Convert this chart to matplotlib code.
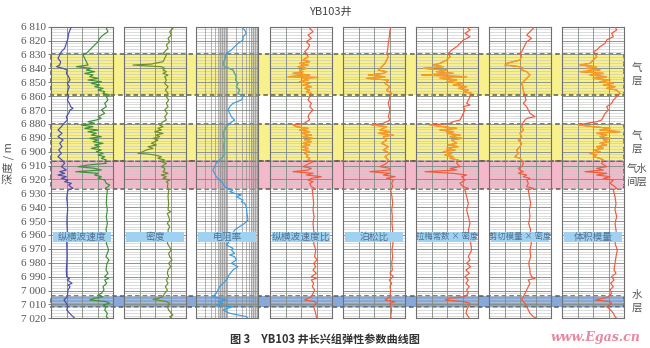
import numpy as np
import matplotlib.pyplot as plt
from matplotlib.patches import Rectangle

plt.rcParams['font.family'] = ['Noto Sans CJK SC', 'DejaVu Sans']

# ----------------------------
# Data (values in % of track width; resistivity in ohm.m)
# ----------------------------
depth_top, depth_bottom = 6810, 7020

zone_top = [6830, 6880, 6907, 7004]
zone_bottom = [6859, 6907, 6927, 7012]
zone_label = ['气\n层', '气\n层', '气水\n间层', '水\n层']

track_names = ['纵横波速度', '密度', '电阻率', '纵横波速度比', '泊松比',
               '拉梅常数 × 密度', '剪切模量 × 密度', '体积模量']

vs_depth = [6808.8, 6811.2, 6814.8, 6818.4, 6822, 6825.6, 6828, 6830.4, 6832.8, 6835.2,
            6837.6, 6838.8, 6840, 6841.2, 6843.6, 6846, 6848.4, 6850.8, 6853.2, 6855.6,
            6858, 6860.4, 6862.8, 6865.2, 6867.6, 6868.8, 6870, 6872.4, 6874.8, 6877.2,
            6879.6, 6882, 6884.4, 6886.8, 6889.2, 6891.6, 6894, 6896.4, 6898.8, 6901.2,
            6903.6, 6906, 6908.4, 6910.8, 6913.2, 6914.4, 6915.6, 6916.8, 6918, 6919.2,
            6920.4, 6921.6, 6922.8, 6924, 6925.2, 6926.4, 6927.6, 6930, 6933.6, 6937.2,
            6942, 6946.8, 6951.6, 6956.4, 6961.2, 6966, 6970.8, 6975.6, 6980.4, 6985.2,
            6990, 6991.2, 6992.4, 6994.8, 6996, 6997.2, 6999.6, 7004.4, 7006.8, 7009.2,
            7011.6, 7014, 7016.4, 7018.8, 7020]
vs = [32.8, 31.7, 28.5, 27.4, 24.7, 22, 16.7, 14, 11.3, 15.6,
      14, 9, 19.4, 26.3, 24.7, 28.5, 30.6, 26.3, 29.6, 27.4,
      26.3, 28.5, 26.3, 29.6, 31.7, 35.5, 30.6, 28.5, 24.7, 26.3,
      21, 16.7, 11.3, 17.7, 11.3, 19.4, 14, 17.7, 12.4, 16.7,
      11.3, 17.7, 22, 16.7, 24.7, 14, 22, 11.3, 24.7, 16.7,
      27.4, 22, 32.8, 28.5, 31.7, 35.5, 27.4, 26.3, 25.3, 26.3,
      26.9, 25.8, 25.6, 26.3, 26.1, 25.3, 25.6, 25.8, 25.4, 24.7,
      25.3, 30, 26.3, 33.9, 27.4, 30.6, 27.4, 26.3, 21, 24.7,
      27.4, 25.3, 30, 35.5, 38.2]

vp_depth = [6808.8, 6811.2, 6813.6, 6816, 6818.4, 6820.8, 6823.2, 6825.6, 6828, 6829.2,
            6830.4, 6832.8, 6835.2, 6837.6, 6838.8, 6840, 6841.2, 6842.4, 6843.6, 6844.8,
            6846, 6847.2, 6848.4, 6849.6, 6850.8, 6852, 6853.2, 6854.4, 6855.6, 6856.8,
            6858, 6859.2, 6860.4, 6862.8, 6865.2, 6867.6, 6870, 6872.4, 6874.8, 6876,
            6877.2, 6878.4, 6879.6, 6880.8, 6882, 6883.2, 6884.4, 6885.6, 6886.8, 6888,
            6889.2, 6890.4, 6891.6, 6892.8, 6894, 6895.2, 6896.4, 6897.6, 6898.8, 6900,
            6901.2, 6902.4, 6903.6, 6904.8, 6906, 6907.2, 6908.4, 6909.6, 6910.8, 6912,
            6913.2, 6914.4, 6915.6, 6916.8, 6918, 6919.2, 6920.4, 6922.8, 6924, 6925.2,
            6926.4, 6927.6, 6932.4, 6937.2, 6942, 6946.8, 6951.6, 6956.4, 6961.2, 6966,
            6970.8, 6975.6, 6978, 6980.4, 6985.2, 6987.6, 6990, 6991.2, 6992.4, 6994.8,
            6997.2, 6999.6, 7002, 7003.2, 7004.4, 7005.6, 7006.8, 7008, 7009.2, 7010.4,
            7011.6, 7014, 7016.4, 7018.8, 7020]
vp = [94.6, 89.2, 91.9, 83.9, 78.5, 75.8, 70.4, 65, 59.7, 57,
      51.6, 54.3, 57, 59.7, 40.9, 65, 57, 70.4, 54.3, 67.7,
      62.4, 75.8, 59.7, 81.2, 65, 78.5, 70.4, 83.9, 75.8, 86.6,
      83.9, 94.6, 89.2, 91.9, 86.6, 89.2, 81.2, 86.6, 75.8, 81.2,
      73.1, 59.7, 70.4, 48.9, 67.7, 54.3, 75.8, 59.7, 73.1, 65,
      81.2, 62.4, 75.8, 67.7, 83.9, 70.4, 78.5, 65, 81.2, 73.1,
      83.9, 75.8, 86.6, 81.2, 89.2, 86.6, 89.2, 59.7, 43.5, 70.4,
      81.2, 40, 75.8, 70.4, 81.2, 75.8, 86.6, 89.2, 94.6, 91.9,
      87.6, 90.9, 89.8, 89.2, 90.9, 89.2, 90.9, 88.7, 91.9, 89.2,
      93, 88.7, 93.5, 90.3, 88.7, 91.9, 86.6, 93, 86.6, 89.8,
      83.9, 85.5, 81.2, 75.8, 83.9, 70.4, 62.4, 89.2, 94.6, 83.9,
      89.2, 86.6, 90.9, 89.2, 91.9]

den_depth = [6808.8, 6811.2, 6813.6, 6816, 6818.4, 6820.8, 6823.2, 6825.6, 6828, 6829.2,
             6830.4, 6832.8, 6835.2, 6836.9, 6837.6, 6838.3, 6838.8, 6840, 6841.2, 6842.4,
             6843.6, 6844.8, 6846, 6848.4, 6850.8, 6853.2, 6855.6, 6858, 6860.4, 6862.8,
             6865.2, 6867.6, 6870, 6872.4, 6874.8, 6877.2, 6878.4, 6879.6, 6880.8, 6882,
             6883.2, 6884.4, 6885.6, 6886.8, 6888, 6889.2, 6890.4, 6891.6, 6892.8, 6894,
             6895.2, 6896.4, 6897.6, 6898.8, 6900, 6901.2, 6901.7, 6902.4, 6903.6, 6904.8,
             6906, 6907.2, 6908.4, 6910.8, 6912, 6913.2, 6914.4, 6915.6, 6916.8, 6918,
             6919.2, 6920.4, 6921.6, 6922.8, 6925.2, 6927.6, 6932.4, 6937.2, 6942, 6943.2,
             6944.4, 6946.8, 6949.2, 6951.6, 6954, 6956.4, 6961.2, 6966, 6970.8, 6973.2,
             6975.6, 6978, 6980.4, 6982.8, 6985.2, 6987.6, 6990, 6992.4, 6994.8, 6997.2,
             6999.6, 7002, 7004.4, 7005.6, 7006.3, 7007.3, 7008, 7009.2, 7011.6, 7014,
             7016.4, 7017.6, 7018.8, 7020]
den = [76.3, 79, 73.7, 76.3, 71, 73.7, 68.3, 71, 65.6, 62.9,
       68.3, 65.6, 62.9, 44, 14.5, 38.7, 60.2, 65.6, 62.9, 68.3,
       62.9, 71, 65.6, 68.3, 65.6, 71, 66.7, 71, 68.3, 72,
       68.3, 71, 65.6, 69.9, 65.6, 68.3, 62.9, 60.2, 57.5, 62.9,
       54.8, 60.2, 49.5, 62.9, 52.2, 57.5, 46.8, 54.8, 49.5, 44.1,
       52.2, 38.7, 46.8, 36, 30.6, 22.6, 38.7, 49.5, 60.2, 54.8,
       65.6, 60.2, 68.3, 60.2, 65.6, 65.6, 62.9, 71, 60.2, 68.3,
       62.9, 73.7, 68.3, 71, 69.9, 72, 71, 72, 71, 75.3,
       69.9, 72, 73.7, 69.9, 73.7, 71, 72, 69.9, 76.3, 72,
       73.7, 77.4, 72, 75.3, 71, 69.9, 72, 68.3, 71, 66.7,
       69.9, 65.6, 62.9, 54.8, 46.8, 60.2, 68.3, 73.7, 69.9, 72,
       76.3, 79, 73.7, 77.4]

res_depth = [6808.8, 6812.4, 6814.8, 6817.2, 6819.6, 6822, 6824.4, 6826.8, 6829.2, 6834,
             6836.4, 6838.8, 6841.2, 6843.6, 6846, 6848.4, 6850.8, 6853.2, 6855.6, 6858,
             6860.4, 6862.8, 6865.2, 6867.6, 6870, 6872.4, 6874.8, 6877.2, 6879.6, 6882,
             6884.4, 6886.8, 6891.6, 6896.4, 6901.2, 6903.6, 6906, 6908.4, 6910.8, 6913.2,
             6918, 6922.8, 6925.2, 6926.4, 6927.6, 6928.8, 6930, 6931.2, 6932.4, 6933.6,
             6934.8, 6936, 6937.2, 6939.6, 6944.4, 6949.2, 6951.6, 6954, 6956.4, 6958.8,
             6961.2, 6963.6, 6966, 6967.2, 6968.4, 6969.6, 6970.8, 6973.2, 6974.4, 6975.6,
             6978, 6980.4, 6982.8, 6985.2, 6987.6, 6990, 6992.4, 6994.8, 6997.2, 6999.6,
             7002, 7004.4, 7005.6, 7006.8, 7008, 7009.2, 7010.4, 7011.6, 7012.8, 7014,
             7016.4, 7018.8, 7020]
res = [25.5, 37, 42, 33, 33, 22.6, 17.6, 13.8, 9.5, 8.4,
       7.4, 8.4, 15.6, 17.6, 20, 19, 22.6, 20, 25.5, 22.6,
       33, 29, 15.6, 12.2, 10.8, 12.2, 13.8, 17.6, 12.2, 9.5,
       8.4, 7.4, 8.4, 7.8, 8.4, 7.4, 5.8, 4.5, 4.0, 3.5,
       4.5, 7.4, 8.4, 10.8, 15.6, 12.2, 17.6, 29, 20, 25.5,
       33, 29, 37, 42, 44, 47.5, 37, 25.5, 17.6, 15.6,
       13.8, 12.2, 10.8, 9.5, 12.2, 15.6, 13.8, 17.6, 12.2, 17.6,
       20, 13.8, 22.6, 15.6, 12.8, 10.8, 9.5, 7.4, 5.8, 5.1,
       4.5, 3.5, 5.8, 9.5, 5.1, 7.4, 4.5, 15.6, 10.8, 7.4,
       12.2, 42, 47.5]

vpvs_depth = [6808.8, 6811.2, 6813.6, 6816, 6818.4, 6820.8, 6823.2, 6825.6, 6828, 6829.2,
              6831.6, 6834, 6835.2, 6836.4, 6837.6, 6838.8, 6840, 6841.2, 6842.4, 6843.6,
              6844.8, 6846, 6846.5, 6847.2, 6848.4, 6849.6, 6850.8, 6852, 6853.2, 6854.4,
              6855.6, 6856.8, 6858, 6860.4, 6862.8, 6865.2, 6867.6, 6870, 6872.4, 6874.8,
              6877.2, 6878.4, 6879.6, 6880.8, 6882, 6883.2, 6884.4, 6885.6, 6886.8, 6888,
              6889.2, 6890.4, 6891.6, 6892.8, 6894, 6895.2, 6896.4, 6897.6, 6898.8, 6900,
              6901.2, 6902.4, 6903.6, 6904.8, 6906, 6907.2, 6908.4, 6910.8, 6912, 6913.2,
              6914.4, 6915.6, 6916.8, 6918, 6919.2, 6920.4, 6921.6, 6922.8, 6925.2, 6926.4,
              6927.6, 6932.4, 6937.2, 6942, 6946.8, 6951.6, 6956.4, 6961.2, 6966, 6970.8,
              6975.6, 6978, 6980.4, 6982.8, 6985.2, 6987.6, 6990, 6991.2, 6992.4, 6994.8,
              6997.2, 6999.6, 7002, 7004.4, 7005.6, 7006.8, 7008, 7009.2, 7011.6, 7014,
              7016.4, 7018.8, 7020]
vpvs = [74.7, 64, 69.4, 61.3, 66.7, 58.6, 64, 61.3, 55.9, 58.6,
        61.3, 53.2, 64, 47.8, 61.3, 45.2, 58.6, 47.8, 53.2, 37.1,
        64, 29, 77.4, 53.2, 61.3, 47.8, 64, 53.2, 66.7, 55.9,
        64, 58.6, 66.7, 64, 61.3, 66.7, 64, 69.4, 64, 61.3,
        64, 58.6, 55.9, 37.1, 42.5, 61.3, 47.8, 64, 50.5, 66.7,
        53.2, 69.4, 55.9, 66.7, 53.2, 64, 50.5, 61.3, 53.2, 64,
        55.9, 61.3, 58.6, 64, 61.3, 69.4, 64, 53.2, 66.7, 61.3,
        37.1, 69.4, 58.6, 82.8, 66.7, 61.3, 69.4, 64, 66.7, 72,
        68.3, 69.4, 70.4, 69.4, 71, 69.4, 70.4, 72, 70.4, 73.7,
        72, 75.8, 70.4, 73.7, 69.4, 74.7, 66.7, 74.7, 66.7, 70.4,
        68.3, 72, 69.4, 66.7, 61.3, 55.9, 72, 74.7, 70.4, 72,
        73.7, 74.7, 75.8]

pr_depth = [6808.8, 6812.4, 6817.2, 6822, 6826.8, 6829.2, 6831.6, 6834, 6836.4, 6838.8,
            6841.2, 6842.4, 6843.6, 6844.8, 6846, 6847.2, 6848.4, 6850.8, 6853.2, 6855.6,
            6858, 6860.4, 6865.2, 6870, 6874.8, 6877.2, 6879.6, 6880.8, 6882, 6884.4,
            6885.6, 6886.8, 6888, 6889.2, 6891.6, 6894, 6896.4, 6898.8, 6901.2, 6903.6,
            6906, 6908.4, 6910.8, 6912, 6913.2, 6914.4, 6915.6, 6916.8, 6918, 6919.2,
            6920.4, 6922.8, 6925.2, 6927.6, 6932.4, 6937.2, 6942, 6946.8, 6951.6, 6956.4,
            6961.2, 6966, 6970.8, 6975.6, 6980.4, 6985.2, 6987.6, 6990, 6992.4, 6994.8,
            6997.2, 6999.6, 7004.4, 7006.8, 7008, 7009.2, 7014, 7018.8, 7020]
pr = [78.5, 75.8, 74.7, 73.1, 72, 70.4, 73.1, 70.4, 67.7, 62.4,
      57, 70.4, 65, 40.9, 67.7, 38.2, 73.1, 67.7, 75.8, 70.4,
      78.5, 75.8, 73.1, 75.8, 73.1, 75.8, 65, 46.2, 70.4, 59.7,
      75.8, 57, 81.2, 65, 70.4, 62.4, 73.1, 65, 75.8, 67.7,
      73.1, 70.4, 59.7, 75.8, 75.8, 43.5, 75.8, 65, 83.9, 70.4,
      81.2, 78.5, 80.1, 76.9, 79, 80.1, 78.5, 79.6, 79, 80.1,
      79.6, 80.6, 79, 80.1, 78.5, 79.6, 75.8, 81.2, 74.7, 78.5,
      75.8, 76.9, 75.8, 67.7, 83.9, 75.8, 78.5, 76.9, 78]

lam_depth = [6808.8, 6810, 6812.4, 6814.8, 6817.2, 6819.6, 6822, 6824.4, 6826.8, 6829.2,
             6831.6, 6834, 6836.4, 6837.6, 6838.8, 6840, 6841.2, 6842.4, 6843.6, 6844.8,
             6846, 6847.2, 6848.4, 6849.6, 6850.8, 6852, 6853.2, 6854.4, 6855.6, 6856.8,
             6858, 6860.4, 6862.8, 6865.2, 6866.4, 6867.6, 6870, 6872.4, 6874.8, 6877.2,
             6878.4, 6879.6, 6880.8, 6882, 6883.2, 6884.4, 6885.6, 6886.8, 6888, 6889.2,
             6890.4, 6891.6, 6894, 6895.2, 6896.4, 6897.6, 6898.8, 6900, 6901.2, 6902.4,
             6903.6, 6904.8, 6906, 6908.4, 6910.8, 6912, 6913.2, 6914.4, 6915.6, 6916.8,
             6918, 6920.4, 6922.8, 6925.2, 6926.4, 6927.6, 6932.4, 6937.2, 6942, 6946.8,
             6951.6, 6956.4, 6961.2, 6966, 6970.8, 6975.6, 6978, 6980.4, 6982.8, 6985.2,
             6987.6, 6990, 6992.4, 6994.8, 6997.2, 6999.6, 7002, 7004.4, 7005.6, 7006.8,
             7008, 7009.2, 7011.6, 7014, 7016.4, 7018.8, 7020]
lam = [89.8, 81.7, 87.1, 79, 87.1, 76.3, 71, 65.6, 57.5, 52.2,
       54.8, 49.5, 38.7, 28, 44.1, 11.8, 49.5, 33.3, 60.2, 9.1,
       81.7, 38.7, 65.6, 49.5, 76.3, 60.2, 81.7, 68.3, 84.4, 76.3,
       89.8, 87.1, 84.4, 81.7, 87.1, 76.3, 79, 76.3, 73.7, 71,
       60.2, 54.8, 22.6, 44.1, 65.6, 38.7, 60.2, 49.5, 71, 54.8,
       73.7, 57.5, 65.6, 52.2, 68.3, 49.5, 62.9, 44.1, 57.5, 46.8,
       60.2, 54.8, 68.3, 65.6, 71, 54.8, 65.6, 14.5, 60.2, 81.7,
       73.7, 79, 71, 76.3, 84.4, 79, 81.7, 84.4, 81.7, 84.4,
       87.1, 84.4, 86, 88.2, 89.8, 84.4, 87.1, 81.7, 88.2, 80.6,
       86, 79, 84.4, 80.6, 86, 81.7, 84.4, 79, 54.8, 46.8,
       76.3, 87.1, 84.4, 81.7, 80.6, 84.4, 86]

mu_depth = [6808.8, 6811.2, 6813.6, 6816, 6818.4, 6820.8, 6823.2, 6825.6, 6828, 6829.2,
            6831.6, 6834, 6835.2, 6836.4, 6837.6, 6838.8, 6840, 6841.2, 6842.4, 6843.6,
            6844.8, 6846, 6847.2, 6848.4, 6849.6, 6850.8, 6853.2, 6855.6, 6858, 6860.4,
            6862.8, 6865.2, 6867.6, 6870, 6872.4, 6874.8, 6876, 6877.2, 6879.6, 6882,
            6884.4, 6886.8, 6889.2, 6891.6, 6894, 6896.4, 6898.8, 6901.2, 6903.6, 6904.8,
            6906, 6908.4, 6910.8, 6912, 6913.2, 6914.4, 6915.6, 6916.8, 6918, 6919.2,
            6920.4, 6922.8, 6925.2, 6926.4, 6927.6, 6932.4, 6937.2, 6942, 6946.8, 6951.6,
            6956.4, 6961.2, 6966, 6970.8, 6975.6, 6980.4, 6985.2, 6987.6, 6990, 6991.2,
            6992.4, 6994.8, 6997.2, 6999.6, 7002, 7004.4, 7006.8, 7009.2, 7011.6, 7014,
            7016.4, 7018.8, 7020]
mu = [68.8, 71.5, 66.1, 60.8, 68.8, 60.8, 58.1, 55.4, 52.7, 50,
      52.7, 50, 39.2, 28.5, 25.8, 50, 55.4, 52.7, 60.8, 63.4,
      66.1, 63.4, 60.8, 58.1, 55.4, 52.7, 54.3, 55.4, 56.5, 58.1,
      59.7, 55.4, 60.8, 63.4, 66.1, 74.2, 60.8, 58.1, 54.3, 52.7,
      55.4, 50, 52.7, 47.3, 52.7, 50, 44.6, 47.3, 41.9, 50,
      52.7, 55.4, 52.7, 47.3, 50, 55.4, 47.3, 60.8, 55.4, 66.1,
      60.8, 63.4, 60.8, 71.5, 63.4, 65.1, 67.2, 65.1, 66.1, 64,
      67.2, 65.1, 68.3, 66.1, 67.2, 64, 66.1, 66.1, 68.8, 74.2,
      63.4, 66.1, 63.4, 60.8, 58.1, 55.4, 52.7, 58.1, 60.8, 63.4,
      66.1, 71.5, 76.9]

k_depth = [6808.8, 6810, 6812.4, 6814.8, 6817.2, 6819.6, 6822, 6824.4, 6826.8, 6828,
           6829.2, 6831.6, 6834, 6836.4, 6837.6, 6838.8, 6840, 6841.2, 6842.4, 6843.6,
           6844.8, 6846, 6847.2, 6848.4, 6849.6, 6850.8, 6852, 6853.2, 6854.4, 6855.6,
           6858, 6860.4, 6862.8, 6865.2, 6867.6, 6870, 6872.4, 6874.8, 6877.2, 6878.4,
           6879.6, 6880.8, 6882, 6883.2, 6884.4, 6885.6, 6886.8, 6888, 6889.2, 6890.4,
           6891.6, 6892.8, 6894, 6895.2, 6896.4, 6897.6, 6898.8, 6900, 6901.2, 6902.4,
           6903.6, 6904.8, 6906, 6908.4, 6910.8, 6912, 6913.2, 6914.4, 6915.6, 6916.8,
           6918, 6919.2, 6920.4, 6922.8, 6925.2, 6926.4, 6927.6, 6932.4, 6937.2, 6942,
           6946.8, 6951.6, 6956.4, 6961.2, 6966, 6970.8, 6975.6, 6980.4, 6985.2, 6987.6,
           6990, 6992.4, 6994.8, 6997.2, 6999.6, 7002, 7004.4, 7005.6, 7006.8, 7008,
           7009.2, 7011.6, 7014, 7016.4, 7018.8, 7020]
k = [90.9, 85.5, 88.2, 80.1, 82.8, 72, 69.4, 61.3, 55.9, 50.5,
     53.2, 55.9, 50.5, 45.2, 29, 55.9, 39.8, 61.3, 29, 66.7,
     45.2, 72, 50.5, 77.4, 61.3, 82.8, 66.7, 85.5, 72, 88.2,
     93.5, 88.2, 82.8, 80.1, 72, 74.7, 69.4, 66.7, 64, 55.9,
     39.8, 26.3, 50.5, 77.4, 61.3, 93.5, 55.9, 72, 61.3, 77.4,
     66.7, 74.7, 61.3, 72, 55.9, 66.7, 50.5, 61.3, 45.2, 55.9,
     50.5, 61.3, 66.7, 64, 72, 55.9, 66.7, 37.1, 72, 55.9,
     77.4, 66.7, 82.8, 77.4, 85.5, 88.2, 82.8, 85.5, 87.1, 85.5,
     88.2, 85.5, 87.1, 88.2, 85.5, 89.2, 87.1, 85.5, 83.9, 87.1,
     80.1, 83.9, 78.5, 82.8, 77.4, 80.1, 74.7, 66.7, 53.2, 77.4,
     80.1, 72, 78.5, 82.8, 85.5, 88.2]

# ----------------------------
# Layout / style
# ----------------------------
W, H = 650, 348
track_left = [51, 124, 196, 270, 343, 416, 489, 562]
track_w = 62
plot_top, plot_bot = 26.7, 318.3
zone_colors = ['#f8f08a', '#f8f08a', '#f3b8c9', '#86a9da']
red, orange = '#ef5a3a', '#f5a21e'
grid_major, grid_minor = '#7f8a80', '#c8c8c8'

fig = plt.figure(figsize=(W / 100, H / 100), dpi=100)
ax_bottom = 1 - plot_bot / H
ax_height = (plot_bot - plot_top) / H

# background axes: zones, depth ticks, zone labels
bg = fig.add_axes([51 / W, ax_bottom, (624 - 51) / W, ax_height])
bg.set_xlim(0, 1)
bg.set_ylim(depth_bottom, depth_top)
for s in bg.spines.values():
    s.set_visible(False)
bg.set_xticks([])
ticks = np.arange(depth_top, depth_bottom + 1, 10)
bg.set_yticks(ticks)
bg.set_yticklabels([f"{t // 1000} {t % 1000:03d}" for t in ticks],
                   fontfamily='Liberation Serif', fontsize=8, color='#555555')
bg.tick_params(axis='y', length=2, width=0.6, color='#666666', pad=1.5)

for top, bot, c, lab in zip(zone_top, zone_bottom, zone_colors, zone_label):
    bg.axhspan(top, bot, color=c, lw=0, zorder=0)
    bg.add_patch(Rectangle((0, top), 1, bot - top, fill=False, ec='#5a5a5a',
                           lw=1.1, ls=(0, (3, 2)), zorder=5, clip_on=False))
    bg.text(1.022, (top + bot) / 2, lab, ha='center', va='center', fontsize=7.5,
            color='#555555', linespacing=1.35, clip_on=False)


def in_gas(d):
    d = np.asarray(d)
    return ((d >= zone_top[0]) & (d <= zone_bottom[0])) | \
           ((d >= zone_top[1]) & (d <= zone_bottom[1]))


def draw_curve(ax, d, v, base, alt=None, lw=0.85):
    d = np.asarray(d, dtype=float)
    v = np.asarray(v, dtype=float)
    ax.plot(v, d, color=base, lw=lw, zorder=3)
    if alt is not None:
        ax.plot(np.where(in_gas(d), v, np.nan), d, color=alt, lw=lw, zorder=3)


curves = {
    0: [(vs_depth, vs, '#4b4fa6', None), (vp_depth, vp, '#3f8f3c', None)],
    1: [(den_depth, den, '#6b8d2a', None)],
    2: [(res_depth, res, '#3b9be0', '#6caf7d')],
    3: [(vpvs_depth, vpvs, red, orange)],
    4: [(pr_depth, pr, red, orange)],
    5: [(lam_depth, lam, red, orange)],
    6: [(mu_depth, mu, red, orange)],
    7: [(k_depth, k, red, orange)],
}

hlines_minor = np.arange(depth_top, depth_bottom + 1, 2)
hlines_major = np.arange(depth_top, depth_bottom + 1, 10)

for i, name in enumerate(track_names):
    ax = fig.add_axes([track_left[i] / W, ax_bottom, track_w / W, ax_height])
    ax.set_facecolor('none')
    ax.set_ylim(depth_bottom, depth_top)
    ax.set_xticks([])
    ax.set_yticks([])
    ax.minorticks_off()
    for s in ax.spines.values():
        s.set_color('#6f6f6f')
        s.set_linewidth(0.8)
    ytr = ax.get_yaxis_transform()
    ax.hlines(hlines_minor, 0, 1, transform=ytr, color=grid_minor, lw=0.45, zorder=1)
    ax.hlines(hlines_major, 0, 1, transform=ytr, color=grid_major, lw=0.6, zorder=1)

    if i == 2:
        ax.set_xscale('log')
        ax.set_xlim(1, 100)
        ax.set_xticks([])
        ax.minorticks_off()
        ax.axvspan(5.5, 10, color='#9a9a9a', alpha=0.4, lw=0, zorder=1)
        ax.axvspan(60, 100, color='#9a9a9a', alpha=0.4, lw=0, zorder=1)
        logs = [m * 10 ** e for e in range(2) for m in range(1, 10)][1:]
        ax.vlines(logs, 0, 1, transform=ax.get_xaxis_transform(),
                  color='#8a8a8a', lw=0.45, zorder=1)
    else:
        ax.set_xlim(0, 100)
        ax.vlines([25, 50, 75], 0, 1, transform=ax.get_xaxis_transform(),
                  color=grid_major, lw=0.6, zorder=1)

    for d, v, base, alt in curves[i]:
        draw_curve(ax, d, v, base, alt)

    # track title box
    ax.add_patch(Rectangle((0.04, 6957.5), 0.92, 7.5, transform=ytr,
                           fc='#9fd2f2', ec='none', zorder=6))
    ax.text(0.5, 6961.3, name, transform=ytr, ha='center', va='center',
            fontsize=6 if len(name) > 6 else 7, color='#4f7090', zorder=7)

fig.text(330 / W, 1 - 12 / H, 'YB103井', ha='center', va='center',
         fontsize=8, color='#444444')
fig.text(8 / W, 1 - 163 / H, '深度 / m', ha='center', va='center',
         rotation=90, fontsize=8, color='#555555')
fig.text(325 / W, 1 - 339 / H, '图 3　YB103 井长兴组弹性参数曲线图',
         ha='center', va='center', fontsize=8, fontweight='bold', color='#333333')
fig.text(596 / W, 1 - 337 / H, 'www.Egas.cn', ha='center', va='center',
         fontsize=9, fontstyle='italic', fontweight='bold',
         fontfamily='DejaVu Serif', color='#e8879f')

fig.savefig('out.png', dpi=100)
